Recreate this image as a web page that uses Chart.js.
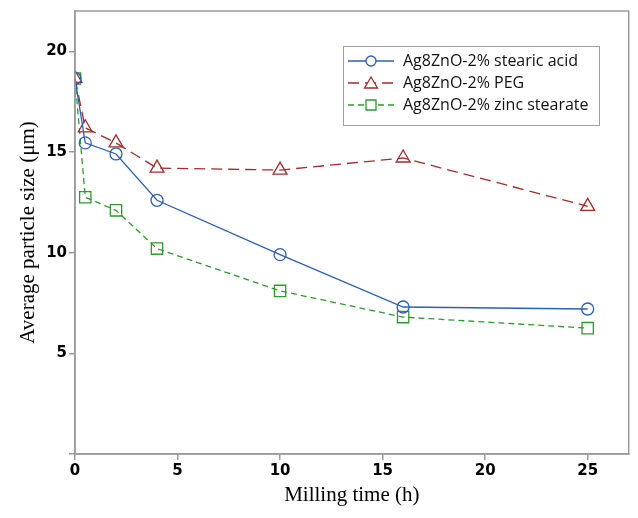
<!DOCTYPE html>
<html>
<head>
<meta charset="utf-8">
<script src="https://cdn.jsdelivr.net/npm/chart.js@4"></script>
<style>
  html, body { margin: 0; padding: 0; background: #fff; }
  #wrap { position: relative; width: 638px; height: 518px; }
</style>
</head>
<body>
<div id="wrap"><canvas id="chart" width="638" height="518"></canvas></div>
<script>
// milling time (h) and average particle size (µm) per additive
const hours = [0, 0.5, 2, 4, 10, 16, 25];
const stearicAcid = [18.65, 15.45, 14.9, 12.6, 9.9, 7.3, 7.2];
const peg = [18.65, 16.2, 15.45, 14.2, 14.1, 14.7, 12.3];
const zincStearate = [18.65, 12.75, 12.1, 10.2, 8.1, 6.8, 6.25];
const xTicks = [0, 5, 10, 15, 20, 25];
const yTicks = [0, 5, 10, 15, 20];
const labels = ['Ag8ZnO-2% stearic acid', 'Ag8ZnO-2% PEG', 'Ag8ZnO-2% zinc stearate'];

const BLUE = '#2e5fb5', RED = '#a52a2a', GREEN = '#2e9a2e', FRAME = '#9a9a9a';

function series(label, ys, color, style, dash, radius) {
  return {
    label,
    data: hours.map((h, i) => ({ x: h, y: ys[i] })),
    borderColor: color,
    backgroundColor: 'rgba(0,0,0,0)',
    borderWidth: 1.3,
    borderDash: dash,
    pointStyle: style,
    pointRadius: radius,
    pointBorderWidth: 1.3,
    pointBorderColor: color,
    pointBackgroundColor: 'rgba(0,0,0,0)',
    tension: 0,
  };
}

// frame round the plot + custom legend with line samples
const decor = {
  id: 'decor',
  afterDraw(chart) {
    const { ctx, chartArea: a } = chart;
    ctx.save();
    ctx.strokeStyle = FRAME;
    ctx.lineWidth = 1.5;
    ctx.strokeRect(a.left, a.top, a.right - a.left, a.bottom - a.top);

    const bx = 343, by = 46, bw = 256, bh = 79;
    ctx.fillStyle = '#fff';
    ctx.fillRect(bx, by, bw, bh);
    ctx.strokeStyle = '#a0a0a0';
    ctx.lineWidth = 1;
    ctx.strokeRect(bx + 0.5, by + 0.5, bw, bh);

    ctx.font = '16px "Open Sans", "Noto Sans", sans-serif';
    ctx.textBaseline = 'middle';
    chart.data.datasets.forEach((ds, i) => {
      const y = 61 + i * 22;
      ctx.strokeStyle = ds.borderColor;
      ctx.lineWidth = 1.3;
      ctx.setLineDash(ds.borderDash || []);
      ctx.beginPath();
      ctx.moveTo(348, y);
      ctx.lineTo(394, y);
      ctx.stroke();
      ctx.setLineDash([]);
      ctx.fillStyle = '#fff';
      const cx = 371;
      ctx.beginPath();
      if (ds.pointStyle === 'circle') {
        ctx.arc(cx, y, 5, 0, Math.PI * 2);
      } else if (ds.pointStyle === 'triangle') {
        ctx.moveTo(cx, y - 6); ctx.lineTo(cx + 6.5, y + 5); ctx.lineTo(cx - 6.5, y + 5); ctx.closePath();
      } else {
        ctx.rect(cx - 5, y - 5, 10, 10);
      }
      ctx.fill();
      ctx.stroke();
      ctx.fillStyle = '#111';
      ctx.fillText(ds.label, 403, y);
    });
    ctx.restore();
  }
};

const tickFont = { family: '"DejaVu Sans", sans-serif', size: 15, weight: 'bold' };
const titleFont = { family: '"Liberation Serif", "Times New Roman", serif', size: 21 };

new Chart(document.getElementById('chart'), {
  type: 'line',
  data: {
    datasets: [
      series(labels[0], stearicAcid, BLUE, 'circle', [], 6),
      series(labels[1], peg, RED, 'triangle', [11, 6], 8),
      series(labels[2], zincStearate, GREEN, 'rect', [6, 4], 8),
    ],
  },
  options: {
    responsive: false,
    animation: false,
    layout: { padding: { top: 8, right: 6, left: 16, bottom: 0 } },
    plugins: { legend: { display: false }, tooltip: { enabled: false } },
    scales: {
      x: {
        type: 'linear',
        min: 0,
        max: 27,
        afterBuildTicks: (s) => { s.ticks = xTicks.map((v) => ({ value: v })); },
        afterFit: (s) => { s.height = 64; },
        grid: { drawOnChartArea: false, color: FRAME, tickLength: 6, lineWidth: 1.5 },
        border: { color: FRAME, width: 1.5 },
        ticks: { color: '#000', font: tickFont, padding: 2, maxRotation: 0 },
        title: { display: true, text: 'Milling time (h)', color: '#000', font: titleFont, padding: { top: 0, bottom: 10 } },
      },
      y: {
        type: 'linear',
        min: 0,
        max: 22,
        afterBuildTicks: (s) => { s.ticks = yTicks.map((v) => ({ value: v })); },
        afterFit: (s) => { s.width = 59; },
        grid: { drawOnChartArea: false, color: FRAME, tickLength: 6, lineWidth: 1.5 },
        border: { color: FRAME, width: 1.5 },
        ticks: { color: '#000', font: tickFont, padding: 2, callback: (v) => (v === 0 ? '' : v) },
        title: { display: true, text: 'Average particle size (\u03bcm)', color: '#000', font: titleFont, padding: { top: 0, bottom: 2 } },
      },
    },
  },
  plugins: [decor],
});
</script>
</body>
</html>
